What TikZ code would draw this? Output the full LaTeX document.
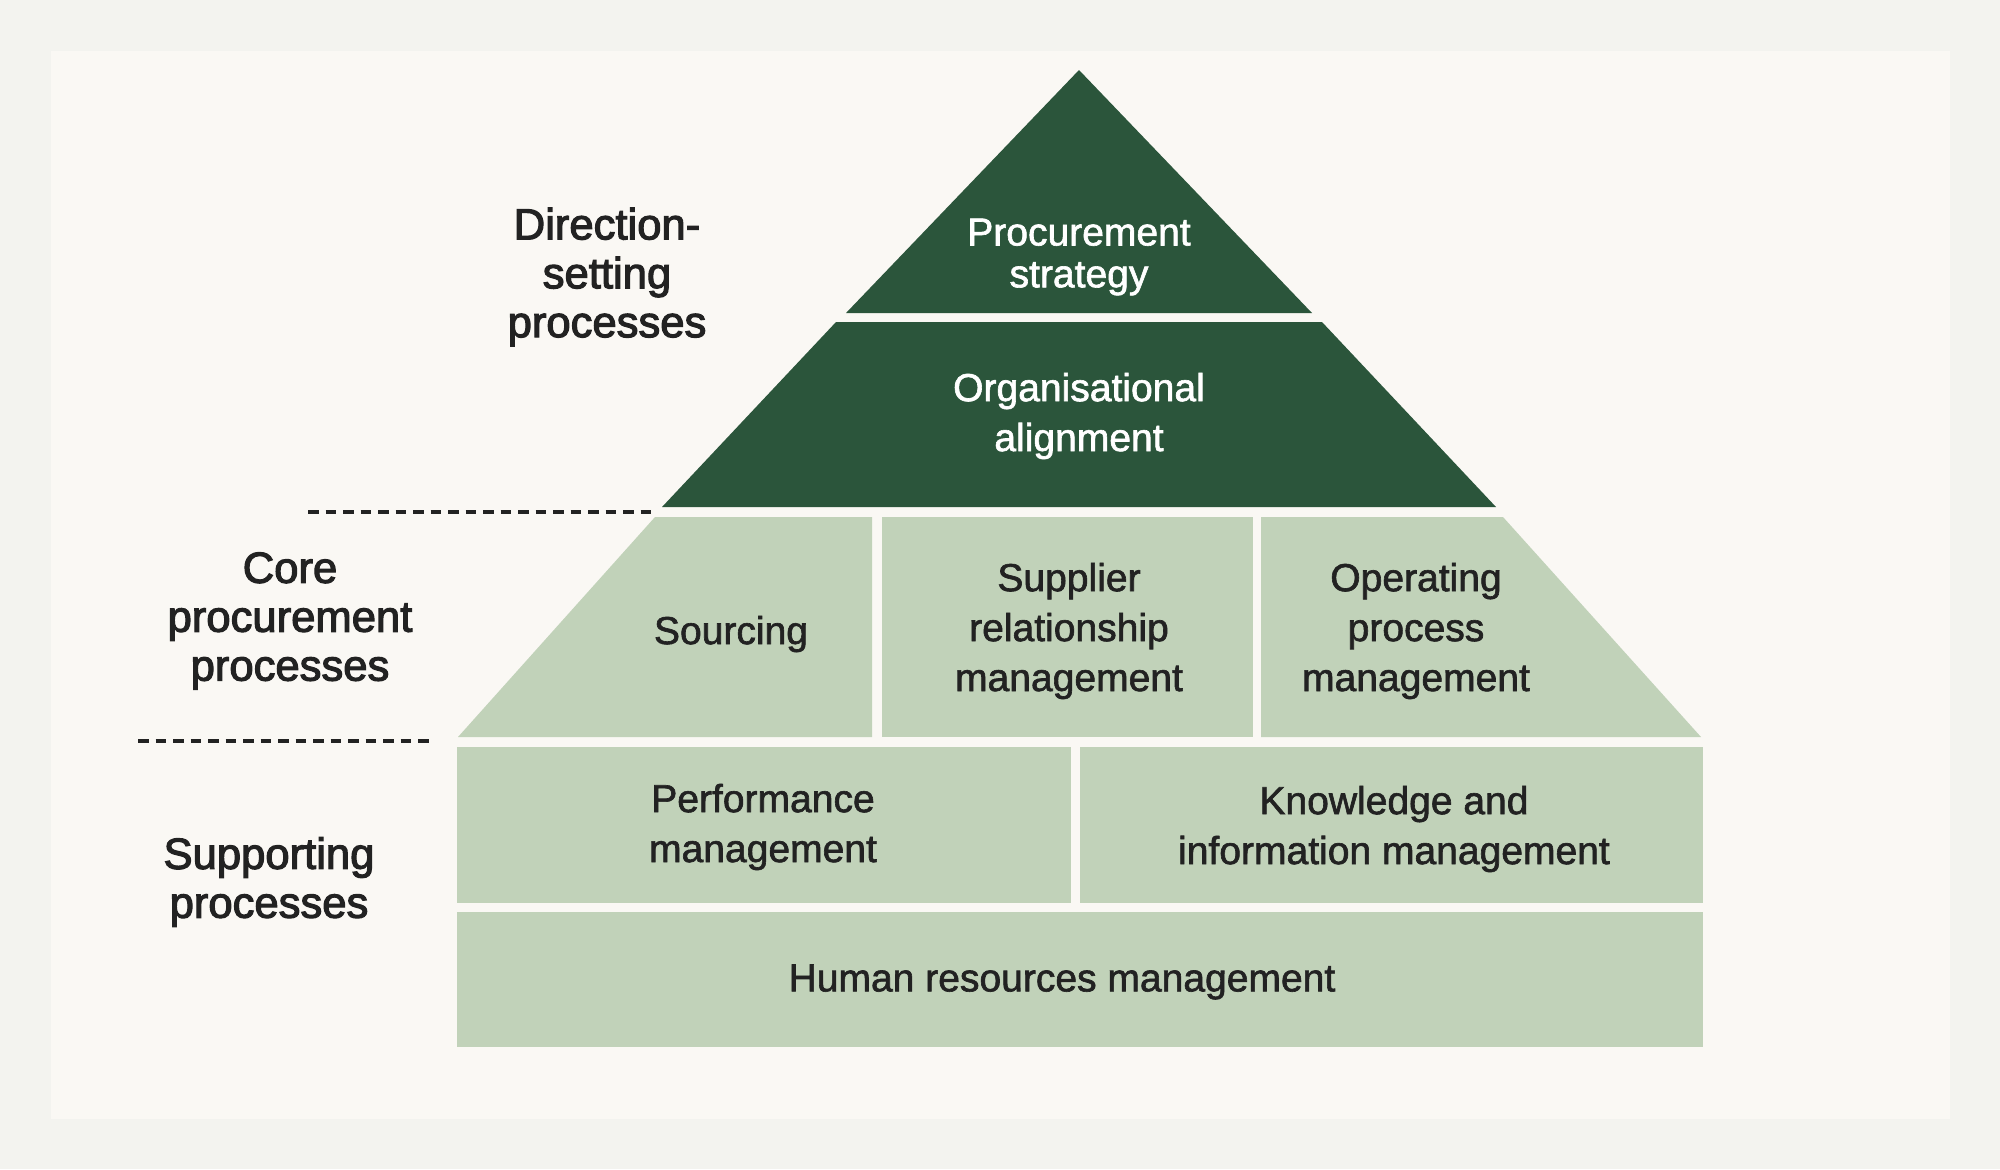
\documentclass[tikz,border=0pt]{standalone}
\usepackage{fontspec}
\setmainfont{Liberation Sans}
\newfontfamily\tierfont{Liberation Sans}[FakeBold=1.6]
\newfontfamily\sidefont{Liberation Sans}[FakeBold=2.6]
\definecolor{darkgreen}{HTML}{2B553B}
\definecolor{sagegreen}{HTML}{C1D2B9}
\definecolor{paper}{HTML}{FAF8F4}
\definecolor{outerbg}{HTML}{F3F3EF}
\definecolor{inkgray}{HTML}{222222}

\begin{document}
\begin{tikzpicture}[x=0.01cm,y=-0.01cm,
	tier/.style={align=center,font=\tierfont\fontsize{11.1}{14.2}\selectfont,text=inkgray},
	darktier/.style={tier,text=white},
	side/.style={align=center,font=\sidefont\fontsize{12.4}{13.9}\selectfont,text=inkgray},
	separator/.style={draw=inkgray,line width=0.9pt,dash pattern=on 1.05mm off 0.7mm}]
	\useasboundingbox (0,0) rectangle (2000,1169);
	\fill[outerbg] (0,0) rectangle (2000,1169);
	\fill[paper] (51,51) rectangle (1950,1119);
	% direction-setting tiers
	\fill[darkgreen] (1079,70) -- (1312,313) -- (846,313) -- cycle;
	\fill[darkgreen] (836,322) -- (1322,322) -- (1496,507) -- (662,507) -- cycle;
	% core tiers
	\fill[sagegreen] (655,517) -- (872,517) -- (872,737) -- (458,737) -- cycle;
	\fill[sagegreen] (882,517) rectangle (1253,737);
	\fill[sagegreen] (1261,517) -- (1503,517) -- (1701,737) -- (1261,737) -- cycle;
	% supporting tiers
	\fill[sagegreen] (457,747) rectangle (1071,903);
	\fill[sagegreen] (1080,747) rectangle (1703,903);
	\fill[sagegreen] (457,912) rectangle (1703,1047);
	\draw[separator] (308,512) -- (651,512);
	\draw[separator] (138,741) -- (434,741);
	\node[darktier,font=\tierfont\fontsize{11.1}{11.9}\selectfont] (strategy) at (1079,257) {Procurement\\strategy};
	\node[darktier] (alignment) at (1079,416) {Organisational\\alignment};
	\node[tier] (sourcing) at (731,634) {Sourcing};
	\node[tier] (supplier) at (1069,631) {Supplier\\relationship\\management};
	\node[tier] (operating) at (1416,631) {Operating\\process\\management};
	\node[tier] (performance) at (763,827) {Performance\\management};
	\node[tier] (knowledge) at (1394,829) {Knowledge and\\information management};
	\node[tier] (hr) at (1062,982) {Human resources management};
	\node[side] (direction) at (607,277) {Direction-\\setting\\processes};
	\node[side] (core) at (290,621) {Core\\procurement\\processes};
	\node[side] (supporting) at (269,882) {Supporting\\processes};
\end{tikzpicture}
\end{document}
